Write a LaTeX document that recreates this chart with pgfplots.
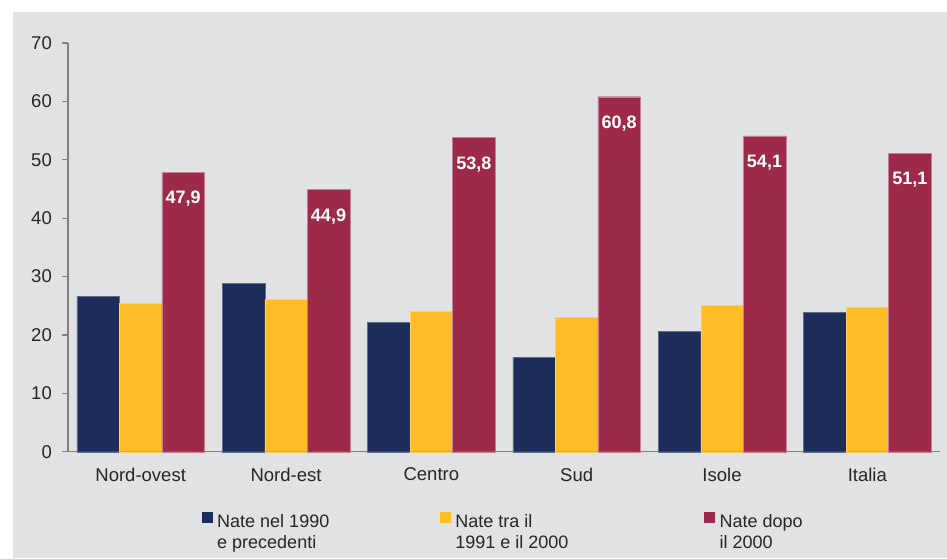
\documentclass[border=0pt]{standalone}
\usepackage{pgfplots}
\pgfplotsset{compat=1.18}
\usepackage{fontspec}
\setmainfont{Liberation Sans}
\definecolor{bg}{HTML}{E1E2E4}
\definecolor{cnavy}{HTML}{1D2C58}
\definecolor{cyel}{HTML}{FDBD27}
\definecolor{cred}{HTML}{9E2A4A}
\definecolor{axgray}{HTML}{808080}
\definecolor{txt}{HTML}{262626}
\pgfplotstableread{
x a b c
0 26.6 25.4 47.9
1 28.8 26.1 44.9
2 22.2 24.0 53.8
3 16.2 23.0 60.8
4 20.6 25.1 54.1
5 23.9 24.8 51.1
}\data
\begin{document}
\begin{tikzpicture}[x=1pt,y=1pt]
\path[use as bounding box] (0,0) rectangle (947,558);
\fill[white] (0,0) rectangle (947,558);
\fill[bg] (13,0) rectangle (947,546);
\begin{axis}[
  at={(68pt,106.3pt)}, anchor=south west,
  scale only axis, width=872pt, height=408.7pt,
  xmin=-0.5, xmax=5.5, ymin=0, ymax=70,
  axis x line*=bottom, axis y line*=left,
  axis line style={axgray, line width=1.3pt},
  ybar=0pt, bar width=42.5pt,
  ytick={0,10,...,70},
  xtick={0,...,5},
  xticklabels={Nord-ovest,Nord-est,Centro,Sud,Isole,Italia},
  major x tick style={draw=none},
  extra x ticks={-0.5,0.5,1.5,2.5,3.5,4.5,5.5},
  extra x tick labels={},
  extra x tick style={major tick length=6pt, tick style={axgray, line width=1.3pt}},
  major tick length=6pt,
  tick align=outside,
  ytick style={axgray, line width=1.3pt},
  tick label style={font=\fontsize{18.5}{21}\selectfont, text=txt},
  yticklabel style={anchor=east, inner sep=0pt},
  yticklabel shift=10pt,
  xticklabel style={inner sep=0pt, yshift=-10pt},
  /pgf/number format/assume math mode=true,
  legend style={at={(axis description cs:0.1537,-0.148)}, anchor=north west,
    draw=none, fill=none, inner sep=0pt, outer sep=0pt, column sep=0pt,
    font=\fontsize{18}{21.5}\selectfont, text=txt,
    nodes={inner sep=0pt, outer sep=0pt}},
  legend columns=3,
  legend image code/.code={\fill[#1,draw=none] (0pt,-1pt) rectangle (10.5pt,9.5pt); \path (15pt,0pt);},
  clip=false,
]
\addplot[fill=cnavy, draw=cnavy!70!white, line width=0.4pt] table[x=x,y=a] {\data};
\addlegendentry{\parbox[t]{223pt}{Nate nel 1990\\e precedenti}}
\addplot[fill=cyel, draw=cyel!70!white, line width=0.4pt] table[x=x,y=b] {\data};
\addlegendentry{\parbox[t]{249pt}{Nate tra il\\1991 e il 2000}}
\addplot[fill=cred, draw=cred!60!white, line width=0.4pt,
  nodes near coords,
  nodes near coords style={anchor=north, inner sep=0pt, yshift=-19pt,
    font=\fontsize{18}{21}\bfseries, text=white,
    /pgf/number format/.cd, use comma, fixed, fixed zerofill, precision=1, assume math mode=true},
  ] table[x=x,y=c] {\data};
\addlegendentry{\parbox[t]{100pt}{Nate dopo\\il 2000}}
\end{axis}
\end{tikzpicture}
\end{document}
